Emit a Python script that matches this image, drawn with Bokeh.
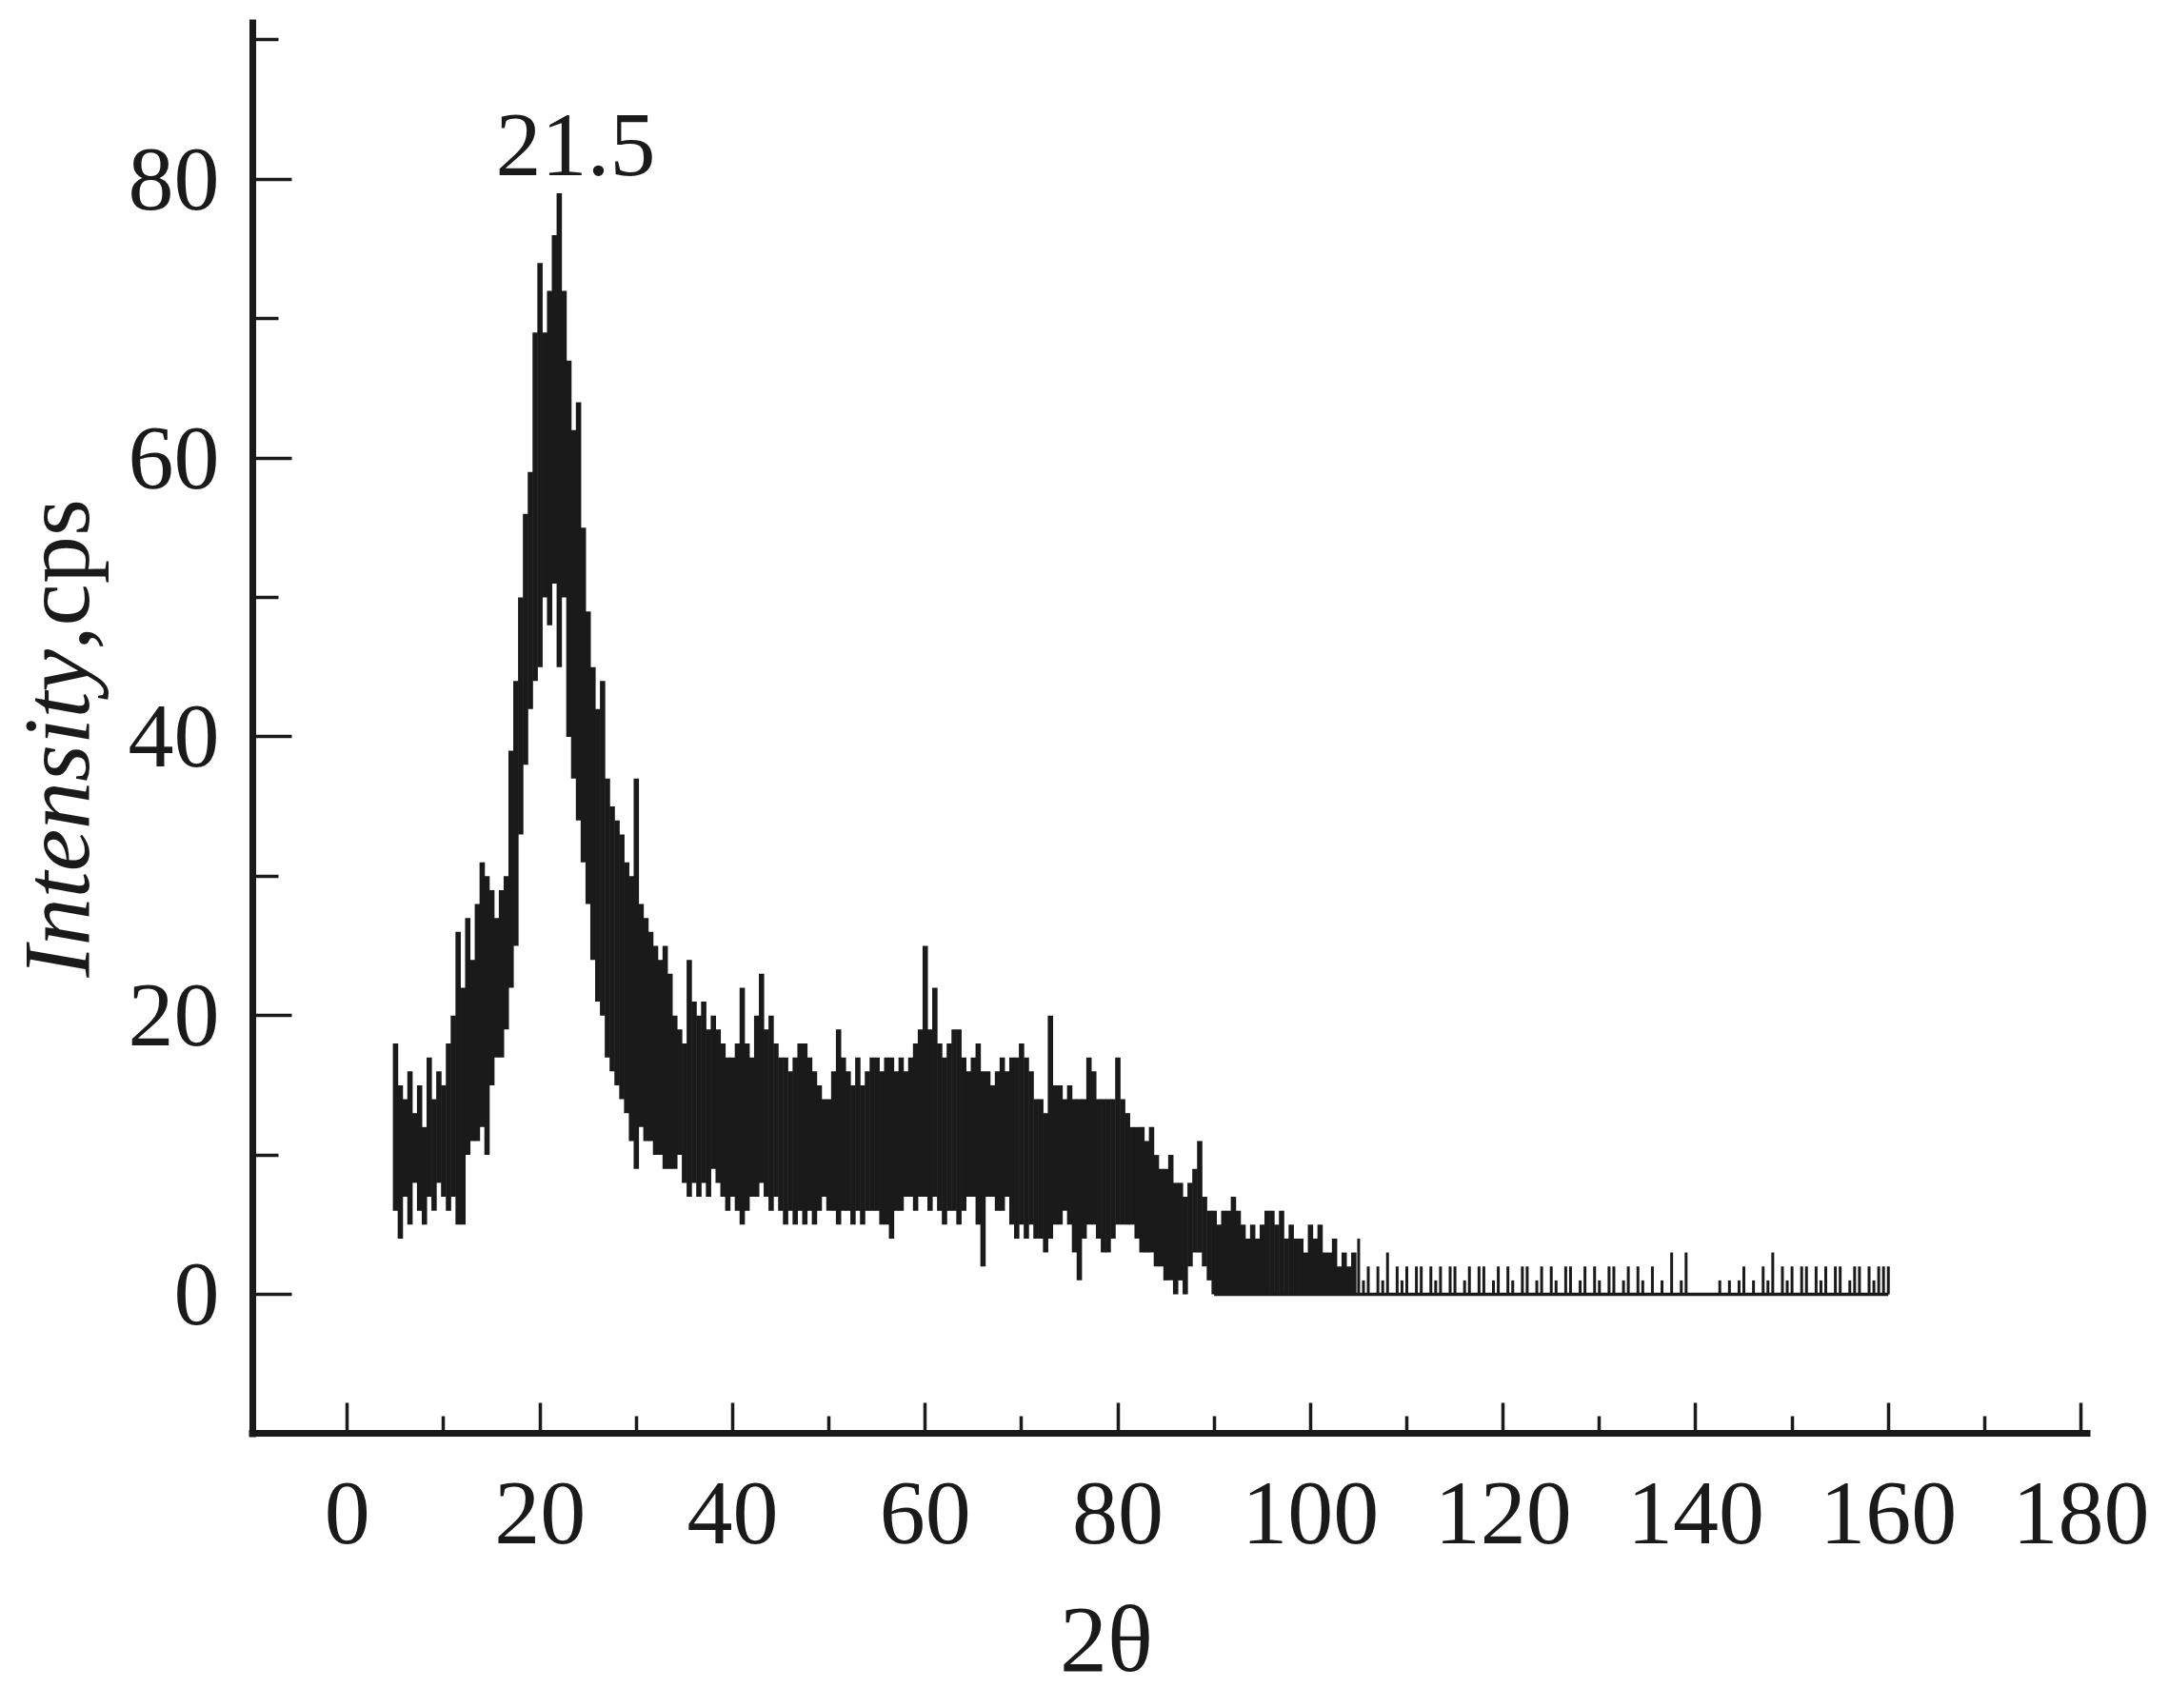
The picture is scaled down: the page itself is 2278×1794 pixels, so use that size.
import math
import numpy as np
from bokeh.plotting import figure
from bokeh.models import Range1d, FixedTicker, Label
from bokeh.embed import file_html
from bokeh.resources import INLINE

# ---- data ----
# measurement grid, 2theta in degrees (0.5 degree columns)
two_theta = np.arange(5.0, 160.01, 0.5)

# upper extent of the trace in each 0.5 degree column (cps)
upper = [
    18, 15, 14, 16, 13, 15, 12, 17, 14, 16,   # 5.0 - 9.5
    15, 18, 20, 26, 22, 27, 24, 28, 31, 30,   # 10 - 14.5
    29, 27, 29, 30, 39, 44, 50, 56, 59, 69,   # 15 - 19.5
    74, 69, 72, 76, 79, 72, 67, 62, 64, 55,   # 20 - 24.5
    49, 45, 42, 44, 37, 35, 34, 33, 31, 30,   # 25 - 29.5
    37, 28, 27, 26, 25, 24, 25, 23, 20, 19,   # 30 - 34.5
    18, 24, 21, 20, 21, 19, 20, 19, 18, 17,   # 35 - 39.5
    17, 18, 22, 18, 17, 20, 23, 19, 20, 18,   # 40 - 44.5
    17, 17, 16, 17, 18, 18, 17, 16, 15, 14,   # 45 - 49.5
    14, 16, 19, 17, 16, 15, 17, 15, 16, 17,   # 50 - 54.5
    17, 16, 17, 17, 16, 17, 16, 17, 18, 19,   # 55 - 59.5
    25, 19, 22, 18, 17, 18, 19, 19, 17, 16,   # 60 - 64.5
    17, 18, 16, 16, 15, 16, 17, 16, 17, 17,   # 65 - 69.5
    18, 17, 16, 14, 14, 13, 20, 15, 15, 14,   # 70 - 74.5
    15, 14, 14, 14, 17, 16, 14, 14, 14, 14,   # 75 - 79.5
    17, 14, 13, 12, 12, 12, 11, 12, 10, 9,    # 80 - 84.5
    9, 10, 8, 8, 7, 8, 9, 11, 7, 6,           # 85 - 89.5
    6, 5, 6, 6, 7, 6, 5, 4, 5, 4,             # 90 - 94.5
    5, 6, 6, 5, 6, 4, 5, 4, 4, 3,             # 95 - 99.5
    5, 4, 5, 3, 3, 4, 2, 3, 2, 3,             # 100 - 104.5
    4, 1, 2, 0, 2, 1, 3, 0, 2, 1,             # 105 - 109.5
    2, 0, 2, 2, 0, 2, 1, 2, 0, 2,             # 110 - 114.5
    2, 0, 1, 2, 0, 2, 2, 0, 1, 2,             # 115 - 119.5
    0, 2, 1, 0, 2, 2, 0, 1, 2, 0,             # 120 - 124.5
    2, 1, 0, 2, 2, 0, 1, 2, 0, 2,             # 125 - 129.5
    1, 0, 2, 2, 0, 1, 2, 0, 2, 1,             # 130 - 134.5
    0, 2, 0, 1, 0, 3, 0, 1, 3, 0,             # 135 - 139.5
    0, 0, 0, 0, 0, 1, 0, 1, 0, 1,             # 140 - 144.5
    2, 0, 1, 0, 2, 1, 3, 0, 2, 1,             # 145 - 149.5
    2, 0, 2, 2, 0, 2, 1, 2, 0, 2,             # 150 - 154.5
    2, 0, 1, 2, 2, 0, 2, 1, 2, 2,             # 155 - 159.5
    2,                                        # 160
]

# lower extent of the trace in each 0.5 degree column (cps)
lower = [
    6, 4, 7, 5, 8, 6, 5, 7, 6, 8,             # 5.0 - 9.5
    7, 6, 7, 5, 5, 10, 11, 11, 12, 10,        # 10 - 14.5
    15, 17, 17, 19, 22, 25, 33, 38, 42, 44,   # 15 - 19.5
    45, 50, 48, 51, 45, 50, 40, 37, 34, 31,   # 20 - 24.5
    28, 24, 21, 20, 17, 16, 15, 14, 13, 11,   # 25 - 29.5
    9, 12, 11, 11, 10, 10, 9, 9, 9, 10,       # 30 - 34.5
    8, 7, 8, 7, 8, 7, 9, 8, 7, 6,             # 35 - 39.5
    7, 6, 5, 6, 7, 7, 8, 7, 6, 7,             # 40 - 44.5
    6, 5, 6, 5, 6, 5, 6, 5, 6, 7,             # 45 - 49.5
    6, 6, 5, 6, 6, 5, 6, 5, 6, 6,             # 50 - 54.5
    6, 5, 5, 4, 6, 6, 7, 7, 6, 7,             # 55 - 59.5
    7, 6, 7, 6, 5, 6, 6, 5, 6, 7,             # 60 - 64.5
    7, 5, 2, 7, 7, 6, 6, 7, 5, 4,             # 65 - 69.5
    5, 4, 5, 4, 4, 3, 4, 5, 5, 6,             # 70 - 74.5
    5, 3, 1, 4, 5, 5, 4, 3, 3, 4,             # 75 - 79.5
    5, 5, 5, 5, 4, 3, 3, 3, 2, 2,             # 80 - 84.5
    1, 1, 0, 1, 0, 2, 3, 3, 2, 1,             # 85 - 89.5
    0, 0, 0, 0, 0, 0, 0, 0, 0, 0,             # 90 - 94.5
    0, 0, 0, 0, 0, 0, 0, 0, 0, 0,             # 95 - 99.5
    0, 0, 0, 0, 0, 0, 0, 0, 0, 0,             # 100 - 104.5
    0, 0, 0, 0, 0, 0, 0, 0, 0, 0,             # 105 - 109.5
    0, 0, 0, 0, 0, 0, 0, 0, 0, 0,             # 110 - 114.5
    0, 0, 0, 0, 0, 0, 0, 0, 0, 0,             # 115 - 119.5
    0, 0, 0, 0, 0, 0, 0, 0, 0, 0,             # 120 - 124.5
    0, 0, 0, 0, 0, 0, 0, 0, 0, 0,             # 125 - 129.5
    0, 0, 0, 0, 0, 0, 0, 0, 0, 0,             # 130 - 134.5
    0, 0, 0, 0, 0, 0, 0, 0, 0, 0,             # 135 - 139.5
    0, 0, 0, 0, 0, 0, 0, 0, 0, 0,             # 140 - 144.5
    0, 0, 0, 0, 0, 0, 0, 0, 0, 0,             # 145 - 149.5
    0, 0, 0, 0, 0, 0, 0, 0, 0, 0,             # 150 - 154.5
    0, 0, 0, 0, 0, 0, 0, 0, 0, 0,             # 155 - 159.5
    0,                                        # 160
]

x_major_ticks = [0, 20, 40, 60, 80, 100, 120, 140, 160, 180]
x_minor_ticks = [10, 30, 50, 70, 90, 110, 130, 150, 170]
y_major_ticks = [0, 20, 40, 60, 80]
y_minor_ticks = [10, 30, 50, 70, 90]

x_axis_span = (-9.82, 181.0)     # drawn extent of the 2theta axis
y_axis_span = (-10.0, 91.46)     # drawn extent of the intensity axis

peak_text = "21.5"
x_title = "2θ"
y_title_italic = "Intensity"
y_title_plain = ",cps"

# ---- styling / layout ----
INK = "#1a1a1a"
FONT = "Liberation Serif"

W, H = 2270, 1790
# frame covers the whole canvas; the axes are pinned at fixed data locations
p = figure(width=W, height=H, output_backend="svg", toolbar_location=None,
           x_range=Range1d(-36.02, 188.40), y_range=Range1d(-29.44, 92.83),
           min_border=0)
p.outline_line_color = None
p.grid.visible = False
p.background_fill_color = "white"
p.border_fill_color = "white"

t = np.asarray(two_theta)
up = np.asarray(upper, dtype=float)
lo = np.asarray(lower, dtype=float)
dense = t < 104.75
sparse = ~dense

p.segment(x0=t[dense], y0=lo[dense], x1=t[dense], y1=up[dense],
          line_color=INK, line_width=5.6)
p.segment(x0=t[sparse], y0=lo[sparse], x1=t[sparse], y1=up[sparse],
          line_color=INK, line_width=3)
tail = t >= 90
p.line(t[tail], lo[tail], line_color=INK, line_width=3.5)

# axes
for ax in (p.xaxis, p.yaxis):
    ax.axis_line_color = INK
    ax.axis_line_width = 7
    ax.major_tick_line_color = INK
    ax.minor_tick_line_color = INK
    ax.major_tick_line_width = 3.5
    ax.minor_tick_line_width = 3.5
    ax.major_tick_out = 0
    ax.minor_tick_out = 0
    ax.major_label_text_font = FONT
    ax.major_label_text_font_size = "96px"
    ax.major_label_text_color = INK

p.xaxis.fixed_location = y_axis_span[0]
p.yaxis.fixed_location = x_axis_span[0]
p.xaxis.bounds = (x_axis_span[0] - 0.35, x_axis_span[1])
p.yaxis.bounds = (y_axis_span[0] - 0.24, y_axis_span[1])

p.xaxis.ticker = FixedTicker(ticks=x_major_ticks, minor_ticks=x_minor_ticks)
p.yaxis.ticker = FixedTicker(ticks=y_major_ticks, minor_ticks=y_minor_ticks)
p.xaxis.major_tick_in = 32
p.xaxis.minor_tick_in = 18
p.yaxis.major_tick_in = 41
p.yaxis.minor_tick_in = 27
p.xaxis.major_label_standoff = 52
p.yaxis.major_label_standoff = 35

# texts
p.add_layout(Label(x=23.7, y=82.47, text=peak_text,
                   text_align="center", text_baseline="alphabetic",
                   text_font=FONT, text_font_size="96px", text_color=INK))
p.add_layout(Label(x=78.8, y=-24.7, text=x_title,
                   text_align="center", text_baseline="alphabetic",
                   text_font=FONT, text_font_size="100px", text_color=INK))
p.add_layout(Label(x=-30.2, y=22.75, text=y_title_italic, angle=math.pi / 2,
                   text_align="left", text_baseline="alphabetic",
                   text_font=FONT, text_font_style="italic",
                   text_font_size="100px", text_color=INK))
p.add_layout(Label(x=-30.2, y=46.25, text=y_title_plain, angle=math.pi / 2,
                   text_align="left", text_baseline="alphabetic",
                   text_font=FONT, text_font_size="100px", text_color=INK))

open("out.html", "w").write(file_html(p, INLINE))
